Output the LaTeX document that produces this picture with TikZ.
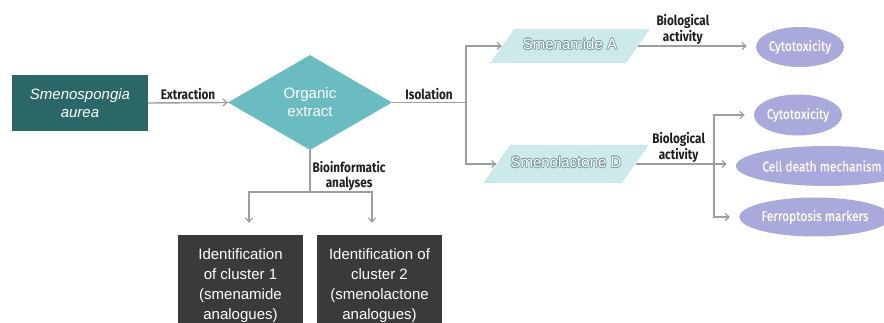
\documentclass[tikz,border=0pt]{standalone}
\usepackage{fontspec}
\setmainfont{Liberation Sans}
\newfontfamily\labfont[FakeStretch=0.85]{Fira Sans}
\newfontfamily\ovalfont[FakeStretch=0.85,FakeBold=0.5]{Fira Sans}
\usepackage{contour}
\contourlength{0.6pt}
\usetikzlibrary{shapes.geometric,arrows.meta}
\definecolor{srcc}{HTML}{2B6767}
\definecolor{diamc}{HTML}{6BBCC1}
\definecolor{parac}{HTML}{CDEAEA}
\definecolor{ellc}{HTML}{A9A9DC}
\definecolor{darkc}{HTML}{3A3A3A}
\definecolor{linec}{HTML}{9E9E9E}
\definecolor{labc}{HTML}{1F1F1F}
\definecolor{olc}{HTML}{7F9F9F}
\tikzset{
  ln/.style={draw=linec, line width=1.4pt},
  arr/.style={ln, -{Straight Barb[length=4pt,width=7pt,line width=1.2pt]}},
  lab/.style={font=\labfont\bfseries\fontsize{13.8}{15.5}\selectfont, text=labc, align=center, inner sep=1pt},
  srcbox/.style={fill=srcc, text=white, minimum width=136pt, minimum height=56pt, inner sep=0pt, align=center, font=\fontsize{15}{18}\selectfont\itshape},
  diam/.style={diamond, fill=diamc, text=white, minimum width=164pt, minimum height=95pt, inner sep=0pt, align=center, font=\fontsize{15}{18}\selectfont},
  para/.style={trapezium, trapezium left angle=55, trapezium right angle=125, fill=parac, text=white, text height=10pt, text depth=3pt, inner xsep=0pt, font=\fontsize{15}{18}\selectfont},
  oval/.style={ellipse, fill=ellc, text=white, inner sep=0pt, font=\ovalfont\fontsize{14}{16}\selectfont},
  darkbox/.style={fill=darkc, text=white, minimum width=125pt, minimum height=102pt, inner sep=0pt, align=center, font=\fontsize{15}{20}\selectfont}
}
\begin{document}
\begin{tikzpicture}[x=1pt,y=-1pt]
\useasboundingbox (0,0) rectangle (884,323);
\clip (0,0) rectangle (884,323);
\fill[white] (0,0) rectangle (884,323);

\node[srcbox] (src) at (80,103) {Smenospongia\\aurea};
\node[diam] (ext) at (310,102.5) {Organic\\extract};
\node[para, inner ysep=10.5pt] (smA) at (570,46) {\makebox[112pt]{\contour{olc}{Smenamide A}}};
\node[para, inner ysep=12.5pt] (smD) at (566,164) {\makebox[112pt]{\contour{olc}{Smenolactone D}}};

\node[oval, minimum width=82pt, minimum height=40pt] (e1) at (800,47) {Cytotoxicity};
\node[oval, minimum width=83pt, minimum height=41pt] (e2) at (798,115) {Cytotoxicity};
\node[oval, minimum width=140pt, minimum height=40pt] (e3) at (826,166) {Cell death mechanism\hspace*{8pt}};
\node[oval, minimum width=116pt, minimum height=39pt] (e4) at (815,217) {Ferroptosis markers};

\node[darkbox] (c1) at (240.5,286) {Identification\\of cluster 1\\(smenamide\\analogues)};
\node[darkbox] (c2) at (379.5,286) {Identification of\\cluster 2\\(smenolactone\\analogues)};

\coordinate (j1) at (466,102.5);
\coordinate (bx) at (714,0);
\coordinate (j2) at (smD.east -| bx);
\coordinate (j3) at (310,192);

\draw[arr] (src.east) -- node[lab, above=1pt]{Extraction} (ext.west);
\draw[ln] (ext.east) -- node[lab, above=1pt]{Isolation} (j1);
\draw[arr] (j1) |- (smA);
\draw[arr] (j1) |- (smD);

\draw[arr, shorten >=9pt] (smA.east) -- node[lab, above=0pt, pos=0.38]{Biological\\activity} (smA.east -| e1.west);
\draw[arr, shorten >=9pt] (smD.east) -- node[lab, above=0pt, pos=0.43]{Biological\\activity} (smD.east -| e3.west);
\draw[arr, shorten >=9pt] (j2) |- (e2);
\draw[arr, shorten >=9pt] (j2) |- (e4);

\draw[ln] (ext.south) -- node[lab, right=1pt, pos=0.62]{Bioinformatic\\analyses} (j3);
\draw[arr, shorten >=12pt] (j3) -| ([xshift=8.5pt]c1.north);
\draw[arr, shorten >=12pt] (j3) -| ([xshift=-7.5pt]c2.north);
\end{tikzpicture}
\end{document}
